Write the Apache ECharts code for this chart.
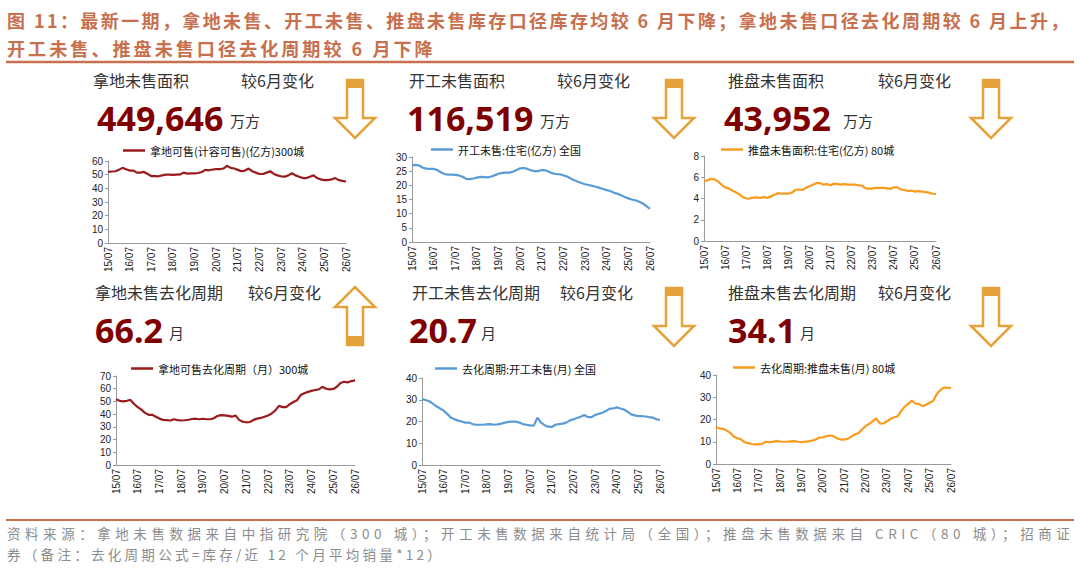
<!DOCTYPE html>
<html><head><meta charset="utf-8">
<script src="https://cdn.jsdelivr.net/npm/echarts@6/dist/echarts.min.js"></script>
<style>
html,body{margin:0;padding:0;background:#fff;}
#main{width:1080px;height:571px;}
#main svg text[style*="18px"]{letter-spacing:2.4px;}
#main svg text[style*="18.1px"]{letter-spacing:3px;}
#main svg text[style*="13.5px"]{letter-spacing:4.55px;}
#main svg text[style*="13.6px"]{letter-spacing:3.2px;}
</style></head><body><div id="main"></div>
<script>
const categories = ['15/07','15/09','15/11',
 '16/01','16/03','16/05','16/07','16/09','16/11',
 '17/01','17/03','17/05','17/07','17/09','17/11',
 '18/01','18/03','18/05','18/07','18/09','18/11',
 '19/01','19/03','19/05','19/07','19/09','19/11',
 '20/01','20/03','20/05','20/07','20/09','20/11',
 '21/01','21/03','21/05','21/07','21/09','21/11',
 '22/01','22/03','22/05','22/07','22/09','22/11',
 '23/01','23/03','23/05','23/07','23/09','23/11',
 '24/01','24/03','24/05','24/07','24/09','24/11',
 '25/01','25/03','25/05','25/07','25/09','25/11',
 '26/01','26/03','26/05','26/07'];

const landStockName = '拿地可售(计容可售)(亿方)300城';
const landStock = [52,52.3,52.5,53.5,55,54,53,53,51.5,51.5,
 52,50.5,49,49,48.8,49.5,50,50,49.8,50,
 50.2,51.5,50.8,51,51,51.2,52,53.5,53.2,53.8,
 54,54,54.5,56.5,55,54.5,53.5,52.5,53,54.5,
 52.5,51.5,50.5,50.5,51.5,52.5,50.5,49.5,48.8,48.5,
 49.5,51,49.5,48.5,47.5,47.5,48.5,49.5,47.5,46.5,
 46,46,46.5,47.5,46,45.5,45];

const startStockName = '开工未售:住宅(亿方) 全国';
const startStock = [27,27.2,27,26.2,25.9,25.8,25.8,25.4,24.6,24,
 23.8,23.8,23.7,23.5,23,22.3,22.2,22.4,22.7,23,
 22.9,22.8,23.1,23.6,24.1,24.4,24.5,24.5,24.8,25.4,
 26,26.1,25.8,25.3,25,25,25.4,25.3,24.8,24.2,
 24,23.9,23.5,23.1,22.4,21.8,21.3,20.8,20.4,20.1,
 19.8,19.5,19.1,18.7,18.3,18,17.4,17,16.5,15.9,
 15.4,15,14.7,14.2,13.6,12.7,11.7];

const launchStockName = '推盘未售面积:住宅(亿方) 80城';
const launchStock = [5.65,5.7,5.85,5.8,5.6,5.3,5.05,4.95,4.75,4.6,
 4.4,4.15,4.02,4.0,4.08,4.1,4.05,4.15,4.05,4.2,
 4.35,4.5,4.45,4.45,4.45,4.55,4.8,4.85,4.8,5.0,
 5.15,5.3,5.45,5.45,5.3,5.35,5.25,5.4,5.35,5.3,
 5.35,5.3,5.3,5.3,5.25,5.2,4.95,4.9,4.95,5.0,
 5.0,5.0,4.95,4.9,5.05,5.05,4.85,4.8,4.7,4.75,
 4.65,4.7,4.65,4.6,4.55,4.45,4.4];

const landCycleName = '拿地可售去化周期（月）300城';
const landCycle = [51.7,50.5,50,50.5,51.2,48,45.5,43.5,41,39.5,
 39.5,38,36.5,35.5,35.3,35,36,35.3,35,35.2,
 35.6,36.2,36.4,36,36.4,36,36,36.8,38.5,39.2,
 39,38.6,38,39,35.5,34,33.6,33.8,35.5,36.5,
 37,38,39,40.5,43,46.5,45.5,45.5,47.8,49.5,
 51,55,56.5,57.5,58.3,59,59.5,61.5,60,59.5,
 59.8,61.5,64.5,65.5,65,66,66.5];

const startCycleName = '去化周期:开工未售(月) 全国';
const startCycle = [30.3,29.9,29.3,28.2,27,26,25,23.5,21.8,21,
 20.4,20,19.5,19.5,18.8,18.5,18.5,18.5,18.7,18.8,
 18.5,18.7,19,19.5,19.8,19.9,20,19.5,18.8,18.5,
 18.2,18.1,21.8,19.5,18.3,17.6,17.5,18.5,18.8,19,
 19.5,20.5,21,21.6,22.2,23,22,22,23,23.5,
 24,24.8,25.8,26,26.5,26,25.5,24.5,23.3,22.8,
 22.5,22.5,22.3,22,21.8,21,20.8];

const launchCycleName = '去化周期:推盘未售(月) 80城';
const launchCycle = [16.5,16,15.8,15,14,12.3,11.6,11.1,9.8,9.4,
 9,8.8,8.8,9.1,10,9.8,9.9,10.4,10.1,10,
 10,10.2,10.3,10,9.8,10,10.2,10.5,11,11.9,
 12,12.5,12.8,12.5,11.5,11,11,11.3,12.3,13.3,
 13.8,15.5,17,18,19.2,20.5,18.3,18.2,19.2,20.2,
 21,21.4,23.8,25.8,27,28.5,27.2,27,26,26.6,
 27.5,28.3,31.5,33.2,34.3,34.3,34.1];

const yMax = [60, 30, 8, 70, 40, 40];
const yStep = [10, 5, 2, 10, 10, 10];

const headerLabels = ['拿地未售面积','开工未售面积','推盘未售面积','拿地未售去化周期','开工未售去化周期','推盘未售去化周期'];
const changeLabel = '较6月变化';
const latestValues = ['449,646','116,519','43,952','66.2','20.7','34.1'];
const unitLabels = ['万方','万方','万方','月','月','月'];
const directions = ['down','down','down','up','down','down'];

const titleLine1 = '图 11：最新一期，拿地未售、开工未售、推盘未售库存口径库存均较 6 月下降；拿地未售口径去化周期较 6 月上升，';
const titleLine2 = '开工未售、推盘未售口径去化周期较 6 月下降';
const footLine1 = '资料来源：拿地未售数据来自中指研究院（300 城）；开工未售数据来自统计局（全国）；推盘未售数据来自 CRIC（80 城）；招商证';
const footLine2 = '券（备注：去化周期公式=库存/近 12 个月平均销量*12）';

// ---------- layout ----------
const names = [landStockName, startStockName, launchStockName, landCycleName, startCycleName, launchCycleName];
const values = [landStock, startStock, launchStock, landCycle, startCycle, launchCycle];
const colors = ['#9A1B1E','#5B9BD5','#F99B1C','#9A1B1E','#5B9BD5','#F99B1C'];
const grids = [
  {left:108, top:161, width:238, height:82},
  {left:412, top:157, width:238, height:85},
  {left:704, top:156, width:232, height:85},
  {left:116, top:376, width:239, height:89},
  {left:422, top:378, width:238, height:87},
  {left:716, top:375, width:235, height:89}
];
const legendPos = [
  {left:123, top:144},{left:431, top:143},{left:721, top:143},
  {left:131, top:362},{left:435, top:362},{left:733, top:361}
];
const headerPos = [
  {hx:93, cx:241, nx:97, ux:230, hy:80, ny:118, uy:120},
  {hx:409, cx:557, nx:407, ux:540, hy:80, ny:118, uy:120},
  {hx:728, cx:878, nx:724, ux:843, hy:80, ny:118, uy:120},
  {hx:95, cx:248, nx:95, ux:169, hy:292, ny:330, uy:332},
  {hx:412, cx:560, nx:409, ux:481, hy:292, ny:330, uy:332},
  {hx:728, cx:878, nx:728, ux:800, hy:292, ny:330, uy:332}
];
const arrowPos = [
  {cx:355, y:80},{cx:674, y:80},{cx:991, y:80},
  {cx:355, y:287},{cx:674, y:288},{cx:991, y:288}
];

const arrowColor = '#E6A23A';
const cjk = '"Noto Sans CJK SC", "Noto Sans", sans-serif';
const latin = '"Liberation Sans", "Noto Sans", sans-serif';

function arrowShapes(p, dir) {
  const cx = p.cx, hw = 8, hh = 20;
  if (dir === 'down') {
    const y0 = p.y;
    return [
      {type:'polygon', shape:{points:[[cx-hw,y0],[cx+hw,y0],[cx+hw,y0+38],[cx+hh,y0+38],[cx,y0+58],[cx-hh,y0+38],[cx-hw,y0+38]]},
       style:{fill:'#fff', stroke:arrowColor, lineWidth:2.5, lineJoin:'miter'}},
      {type:'rect', shape:{x:cx-hw, y:y0, width:hw*2, height:8}, style:{fill:arrowColor}}
    ];
  } else {
    const t = p.y;
    return [
      {type:'polygon', shape:{points:[[cx,t],[cx+hh,t+20],[cx+hw,t+20],[cx+hw,t+58],[cx-hw,t+58],[cx-hw,t+20],[cx-hh,t+20]]},
       style:{fill:'#fff', stroke:arrowColor, lineWidth:2.5, lineJoin:'miter'}},
      {type:'rect', shape:{x:cx-hw, y:t+49, width:hw*2, height:9}, style:{fill:arrowColor}}
    ];
  }
}

const graphics = [];
function txt(x, y, text, size, color, weight, family) {
  graphics.push({type:'text', x:x, y:y, silent:true,
    style:{text:text, fontSize:size, fill:color, fontWeight:weight||'normal', fontFamily:family||cjk, verticalAlign:'middle', align:'left'}});
}
txt(7, 20, titleLine1, 18, '#C8704E', 'bold');
txt(7, 48, titleLine2, 18.1, '#C8704E', 'bold');
graphics.push({type:'line', shape:{x1:6, y1:62, x2:1074, y2:62}, style:{stroke:'#C8704E', lineWidth:2.5}});
graphics.push({type:'line', shape:{x1:6, y1:520, x2:1074, y2:520}, style:{stroke:'#C8704E', lineWidth:2}});
txt(7, 533, footLine1, 13.5, '#8C8C8C');
txt(7, 554, footLine2, 13.6, '#8C8C8C');

for (let i = 0; i < 6; i++) {
  const h = headerPos[i];
  txt(h.hx, h.hy, headerLabels[i], 16, '#333');
  txt(h.cx, h.hy, changeLabel, 16, '#333');
  txt(h.nx, h.ny, latestValues[i], 34, '#800000', 'bold', '"Noto Sans", "Open Sans", sans-serif');
  txt(h.ux, h.uy, unitLabels[i], 15, '#333');
  arrowShapes(arrowPos[i], directions[i]).forEach(g => graphics.push(g));
}

const option = {
  backgroundColor: '#fff',
  animation: false,
  grid: grids.map(g => Object.assign({containLabel:false}, g)),
  legend: names.map((n, i) => ({
    data:[{name:n, icon:'rect'}], left:legendPos[i].left, top:legendPos[i].top + 1, padding:0,
    itemWidth:22, itemHeight:2.5, itemGap:5, selectedMode:false,
    textStyle:{fontSize:11, color:'#111', fontFamily:cjk}
  })),
  xAxis: names.map((n, i) => ({
    type:'category', gridIndex:i, data:categories, boundaryGap:false,
    axisLine:{show:true, lineStyle:{color:'#9a9a9a', width:1}},
    axisTick:{show:false},
    splitLine:{show:false},
    axisLabel:{interval:5, rotate:90, fontSize:10, color:'#222', margin:4, fontFamily:latin}
  })),
  yAxis: names.map((n, i) => ({
    type:'value', gridIndex:i, min:0, max:yMax[i], interval:yStep[i],
    axisLine:{show:true, lineStyle:{color:'#9a9a9a', width:1}},
    axisTick:{show:true, length:3, lineStyle:{color:'#9a9a9a'}},
    splitLine:{show:false},
    axisLabel:{fontSize:10, color:'#222', margin:5, fontFamily:latin}
  })),
  series: names.map((n, i) => ({
    type:'line', name:n, xAxisIndex:i, yAxisIndex:i, data:values[i],
    symbol:'none', smooth:false,
    lineStyle:{width:2.2, color:colors[i]}, itemStyle:{color:colors[i]}
  })),
  graphic: graphics
};

const chart = echarts.init(document.getElementById('main'), null, {renderer:'svg', width:1080, height:571});
chart.setOption(option);
</script>
</body></html>
